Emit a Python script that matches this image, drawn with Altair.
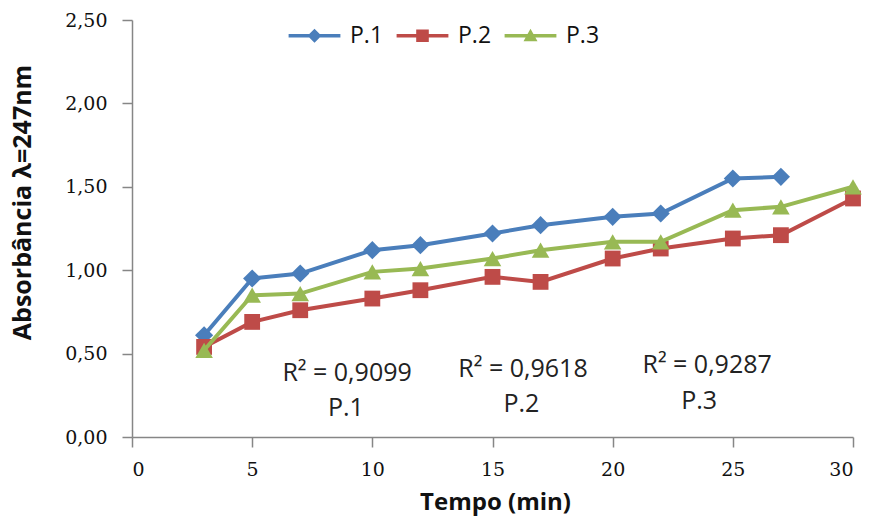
import altair as alt
import pandas as pd

# Absorbance readings over time for three samples
tempo = [3, 5, 7, 10, 12, 15, 17, 20, 22, 25, 27, 30]
p1 = [0.61, 0.95, 0.98, 1.12, 1.15, 1.22, 1.27, 1.32, 1.34, 1.55, 1.56, None]
p2 = [0.54, 0.69, 0.76, 0.83, 0.88, 0.96, 0.93, 1.07, 1.13, 1.19, 1.21, 1.43]
p3 = [0.52, 0.85, 0.86, 0.99, 1.01, 1.07, 1.12, 1.17, 1.17, 1.36, 1.38, 1.50]

series = ["P.1", "P.2", "P.3"]
colors = ["#4A7EBB", "#BE4B48", "#98B954"]
shapes = ["diamond", "square", "triangle-up"]
marker_sizes = [330, 250, 310]

# Legend glyphs: a short line segment with the series marker on top
legend_glyphs = [
    "M-3.7,-0.26H3.7V0.26H-3.7Z M0,-1L1,0L0,1L-1,0Z",
    "M-3.7,-0.26H3.7V0.26H-3.7Z M-0.9,-0.9H0.9V0.9H-0.9Z",
    "M-3.7,-0.26H3.7V0.26H-3.7Z M0,-1L1,0.8L-1,0.8Z",
]

# R² annotations (position in data units)
ann_text = ["R² = 0,9099", "R² = 0,9618", "R² = 0,9287", "P.1", "P.2", "P.3"]
ann_x = [8.95, 16.27, 23.93, 8.9, 16.2, 23.6]
ann_y = [0.335, 0.36, 0.385, 0.127, 0.15, 0.165]

rows = []
for name, vals in zip(series, [p1, p2, p3]):
    for t, v in zip(tempo, vals):
        if v is not None:
            rows.append({"Tempo": t, "Abs": v, "Serie": name})
df = pd.DataFrame(rows)
ann = pd.DataFrame({"text": ann_text, "x": ann_x, "y": ann_y})
legend_df = pd.DataFrame({"Serie": series})

x_scale = alt.Scale(domain=[0, 30], nice=False, zero=False)
y_scale = alt.Scale(domain=[0, 2.5], nice=False)

x_axis = alt.Axis(
    title="Tempo (min)", values=list(range(0, 31, 5)),
    titleX=363, titleY=72, titleBaseline="alphabetic",
    labelPadding=13,
)
y_axis = alt.Axis(
    title="Absorbância λ=247nm", values=[0, 0.5, 1.0, 1.5, 2.0, 2.5],
    labelExpr="replace(format(datum.value, '.2f'), '.', ',')",
    titleX=-110, titleY=182, titleAngle=270, titleAlign="center",
    titleBaseline="middle", labelPadding=15, titleFontSize=25,
)

# One line-with-markers layer per series, drawn in series order
layers = []
for i, name in enumerate(series):
    layers.append(
        alt.Chart(df)
        .transform_filter(alt.datum.Serie == name)
        .mark_line(
            strokeWidth=4,
            color=colors[i],
            point=alt.OverlayMarkDef(
                shape=shapes[i], size=marker_sizes[i], filled=True,
                opacity=1, color=colors[i],
            ),
        )
        .encode(
            x=alt.X("Tempo:Q", scale=x_scale, axis=x_axis),
            y=alt.Y("Abs:Q", scale=y_scale, axis=y_axis),
        )
    )

# Series legend, produced by a zero-size point layer
legend_layer = (
    alt.Chart(legend_df)
    .mark_point(filled=True, opacity=1)
    .encode(
        fill=alt.Fill(
            "Serie:N",
            scale=alt.Scale(domain=series, range=colors),
            legend=alt.Legend(
                title=None, orient="none", direction="horizontal",
                legendX=171, legendY=4,
                symbolSize=196, symbolOpacity=1, symbolStrokeWidth=0,
                labelFont="Open Sans", labelFontSize=23, labelColor="#111111",
                labelOffset=24, columnPadding=12,
            ),
        ),
        shape=alt.Shape(
            "Serie:N",
            scale=alt.Scale(domain=series, range=legend_glyphs),
        ),
        size=alt.value(0),
    )
)

annotations = (
    alt.Chart(ann)
    .mark_text(font="Open Sans", fontSize=25, align="center", baseline="alphabetic", color="#222222")
    .encode(
        x=alt.X("x:Q", scale=x_scale),
        y=alt.Y("y:Q", scale=y_scale),
        text="text:N",
    )
)

chart = (
    alt.layer(*layers, legend_layer, annotations)
    .properties(
        width=721, height=417,
        autosize=alt.AutoSizeParams(type="none"),
        padding={"left": 132, "top": 20, "right": 16, "bottom": 80},
        background="white",
    )
    .configure_view(stroke=None)
    .configure_axis(
        grid=False,
        domainColor="#868686", domainWidth=1.5,
        tickColor="#868686", tickWidth=1.5, tickSize=10,
        labelFont="DejaVu Serif", labelFontSize=19, labelColor="#111111",
        titleFont="Open Sans", titleFontSize=24, titleFontWeight="bold", titleColor="#111111",
    )
)

chart.save("out.html", embed_options={"renderer": "svg", "actions": False})
